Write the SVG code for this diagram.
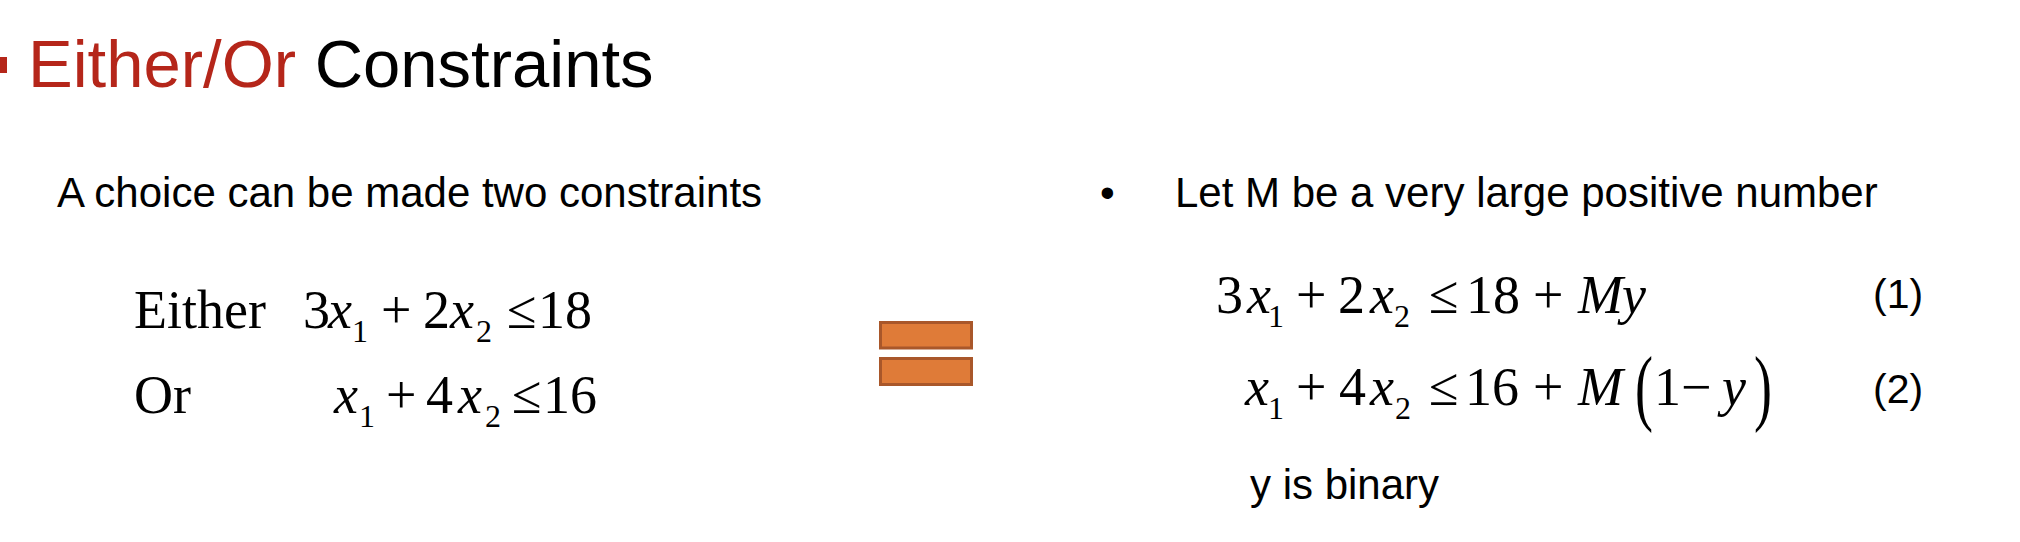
<svg xmlns="http://www.w3.org/2000/svg" width="2020" height="542" viewBox="0 0 2020 542">
<style>
.sans{font-family:"Liberation Sans",Arial,sans-serif;fill:#000}
.m{font-family:"Liberation Serif","Times New Roman",serif;font-size:54px;fill:#000}
.i{font-style:italic}
.sub{font-size:32px}
.bar{fill:#DF7B38;stroke:#A9572A;stroke-width:3}
</style>
<rect width="2020" height="542" fill="#fff"/>
<g id="title">
<rect x="-10" y="57" width="17" height="16" fill="#B5261A"/>
<text class="sans" x="28" y="87" font-size="67"><tspan fill="#B5261A">Either/Or</tspan> Constraints</text>
</g>
<g id="left-intro">
<text class="sans" x="57" y="207" font-size="42">A choice can be made two constraints</text>
</g>
<g id="left-equations">
<text class="m" y="328"><tspan x="134">Either</tspan><tspan x="303">3</tspan><tspan x="328" class="i">x</tspan><tspan x="381">+</tspan><tspan x="423">2</tspan><tspan x="450" class="i">x</tspan><tspan x="507">≤</tspan><tspan x="538">18</tspan></text>
<text class="m sub" y="342"><tspan x="352">1</tspan><tspan x="476">2</tspan></text>
<text class="m" y="413"><tspan x="134">Or</tspan><tspan x="334" class="i">x</tspan><tspan x="386">+</tspan><tspan x="426">4</tspan><tspan x="458" class="i">x</tspan><tspan x="512">≤</tspan><tspan x="543">16</tspan></text>
<text class="m sub" y="427"><tspan x="359">1</tspan><tspan x="485">2</tspan></text>
</g>
<g id="equals">
<rect class="bar" x="880.5" y="322.5" width="91" height="25.5"/>
<rect class="bar" x="880.5" y="358.5" width="91" height="26"/>
</g>
<g id="right-intro">
<text class="sans" x="1100" y="207" font-size="42">•</text>
<text class="sans" x="1175" y="207" font-size="42">Let M be a very large positive number</text>
</g>
<g id="right-equation-1">
<text class="m" y="313"><tspan x="1216">3</tspan><tspan x="1247" class="i">x</tspan><tspan x="1296">+</tspan><tspan x="1338">2</tspan><tspan x="1370" class="i">x</tspan><tspan x="1429">≤</tspan><tspan x="1466">18</tspan><tspan x="1533">+</tspan><tspan x="1578" class="i">M</tspan><tspan x="1622" class="i">y</tspan></text>
<text class="m sub" y="327"><tspan x="1268">1</tspan><tspan x="1394">2</tspan></text>
<text class="sans" x="1873" y="308" font-size="41">(1)</text>
</g>
<g id="right-equation-2">
<text class="m" y="405"><tspan x="1245" class="i">x</tspan><tspan x="1296">+</tspan><tspan x="1339">4</tspan><tspan x="1370" class="i">x</tspan><tspan x="1429">≤</tspan><tspan x="1465">16</tspan><tspan x="1533">+</tspan><tspan x="1578" class="i">M</tspan><tspan x="1654">1</tspan><tspan x="1681">−</tspan><tspan x="1722" class="i">y</tspan></text>
<text class="m sub" y="419"><tspan x="1268">1</tspan><tspan x="1395">2</tspan></text>
<text class="m" transform="translate(1635,415) scale(1,1.55)" x="0" y="0">(</text>
<text class="m" transform="translate(1754,415) scale(1,1.55)" x="0" y="0">)</text>
<text class="sans" x="1873" y="403" font-size="41">(2)</text>
</g>
<g id="binary-note">
<text class="sans" x="1250" y="499" font-size="42">y is binary</text>
</g>
</svg>
